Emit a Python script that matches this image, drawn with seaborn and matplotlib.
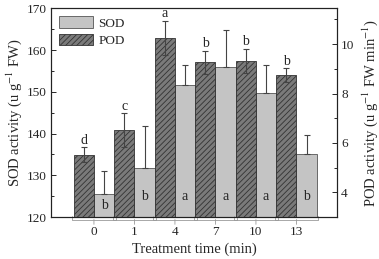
import numpy as np
import pandas as pd
import matplotlib
matplotlib.use("Agg")
import matplotlib.pyplot as plt
from matplotlib.patches import Patch
import seaborn as sns

# data
times = ["0", "1", "4", "7", "10", "13"]
sod = [125.5, 131.8, 151.7, 156.0, 149.7, 135.1]
sod_err = [5.6, 10.0, 4.6, 8.8, 6.7, 4.6]
pod = [5.53, 6.52, 10.24, 9.26, 9.33, 8.74]
pod_err = [0.30, 0.68, 0.70, 0.47, 0.49, 0.29]
sod_letters = ["b", "b", "a", "a", "a", "b"]
pod_letters = ["d", "c", "a", "b", "b", "b"]

sns.set_theme(style="ticks")
plt.rcParams["font.family"] = ["Liberation Serif", "DejaVu Serif"]
plt.rcParams["mathtext.fontset"] = "stix"
plt.rcParams["hatch.linewidth"] = 0.6
plt.rcParams["hatch.color"] = "#222222"

sod_col = "#c4c4c4"
pod_col = "#7a7a7a"

df = pd.DataFrame({
    "time": times * 2,
    "enzyme": ["POD"] * 6 + ["SOD"] * 6,
})
df_sod = df.assign(val=[np.nan] * 6 + sod)
df_pod = df.assign(val=pod + [np.nan] * 6)

fig = plt.figure(figsize=(3.79, 2.59), dpi=100)
ax = fig.add_axes([0.1346, 0.162, 0.7544, 0.806])
ax2 = ax.twinx()

sns.barplot(data=df_sod, x="time", y="val", hue="enzyme", hue_order=["POD", "SOD"],
            order=times, width=1.0, palette={"POD": pod_col, "SOD": sod_col},
            edgecolor="#555555", linewidth=0.6, errorbar=None, legend=False, ax=ax)
sns.barplot(data=df_pod, x="time", y="val", hue="enzyme", hue_order=["POD", "SOD"],
            order=times, width=1.0, palette={"POD": pod_col, "SOD": sod_col},
            edgecolor="#333333", linewidth=0.6, errorbar=None, legend=False, ax=ax2)

sod_bars = [p for p in ax.patches if p.get_height() > 0 and not np.isnan(p.get_height())]
pod_bars = [p for p in ax2.patches if p.get_height() > 0 and not np.isnan(p.get_height())]
sod_bars.sort(key=lambda p: p.get_x())
pod_bars.sort(key=lambda p: p.get_x())
for p in pod_bars:
    p.set_hatch("//////")

sod_x = [p.get_x() + p.get_width() / 2 for p in sod_bars]
pod_x = [p.get_x() + p.get_width() / 2 for p in pod_bars]

ax.errorbar(sod_x, sod, yerr=[np.zeros(6), sod_err], fmt="none", ecolor="#444444",
            elinewidth=0.8, capsize=2.5, capthick=0.8, zorder=5)
ax2.errorbar(pod_x, pod, yerr=pod_err, fmt="none", ecolor="#444444",
             elinewidth=0.8, capsize=2.5, capthick=0.8, zorder=5)

for x, v, t in zip(sod_x, sod, sod_letters):
    ax.text(x, min(125.0, (120 + v) / 2), t, ha="center", va="center", fontsize=10)
for x, v, e, t in zip(pod_x, pod, pod_err, pod_letters):
    ax2.text(x, v + e + 0.02, t, ha="center", va="bottom", fontsize=10)

ax.set_xlim(-1.06, 6.0)
ax.set_ylim(120, 170)
ax2.set_ylim(3, 11.45)
ax.set_yticks(np.arange(120, 171, 10))
ax.set_yticks(np.arange(125, 170, 10), minor=True)
ax2.set_yticks([4, 6, 8, 10])
ax2.set_yticks([5, 7, 9, 11], minor=True)

ax.set_xlabel("Treatment time (min)", fontsize=10.5, labelpad=3)
ax.set_ylabel("SOD activity (u g$^{-1}$ FW)", fontsize=10.5, labelpad=2)
ax2.set_ylabel("POD activity (u g$^{-1}$ FW min$^{-1}$)", fontsize=10.5, labelpad=4)

for a in (ax, ax2):
    for s in a.spines.values():
        s.set_linewidth(0.8)
        s.set_color("#222222")
    a.tick_params(axis="y", which="both", direction="in", labelsize=9.5, width=0.7, pad=3)
    a.tick_params(axis="y", which="major", length=3.5)
    a.tick_params(axis="y", which="minor", length=2)
ax.tick_params(axis="x", direction="out", length=0, labelsize=9.5, pad=6.5)

# little braces under each group
for i in range(len(times)):
    ax.annotate("", xy=(i, -0.012), xycoords=("data", "axes fraction"),
                xytext=(i, -0.035), textcoords=("data", "axes fraction"),
                arrowprops=dict(arrowstyle="-[, widthB=1.3, lengthB=0.2",
                                color="#9a9a9a", lw=0.6, shrinkA=0, shrinkB=0))

handles = [Patch(facecolor=sod_col, edgecolor="#555555", linewidth=0.6, label="SOD"),
           Patch(facecolor=pod_col, edgecolor="#333333", linewidth=0.6, hatch="//////", label="POD")]
ax2.legend(handles=handles, loc="upper left", frameon=False, fontsize=9.5,
           handlelength=2.6, handleheight=1.0, borderaxespad=0.2, labelspacing=0.3,
           handletextpad=0.4)

fig.savefig("out.png", dpi=100)
